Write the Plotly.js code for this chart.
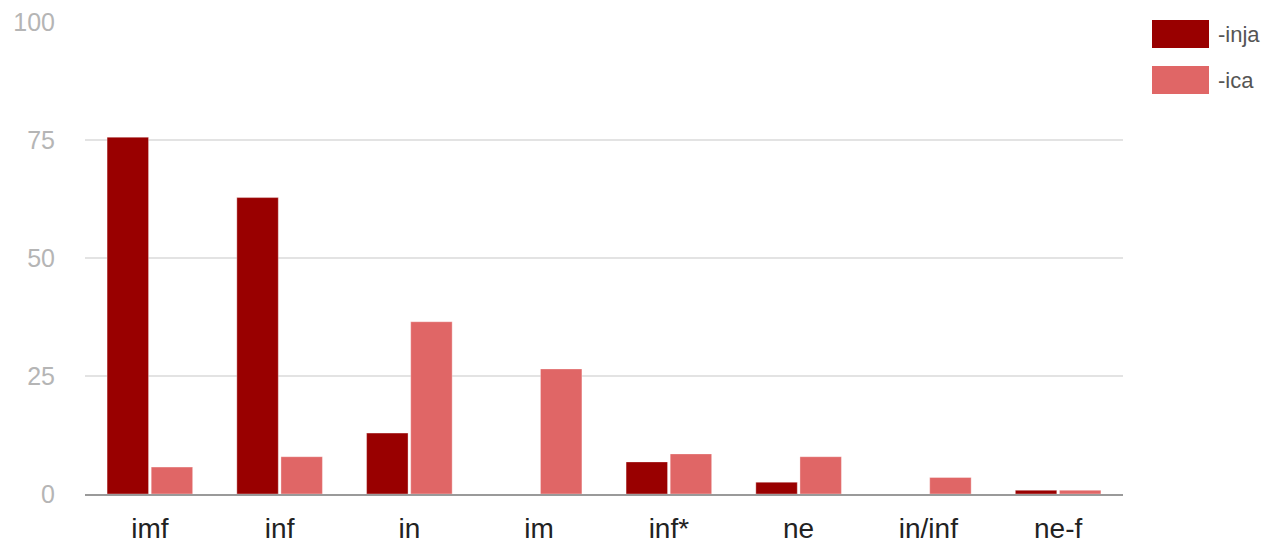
<!DOCTYPE html>
<html>
<head>
<meta charset="utf-8">
<script src="https://cdn.plot.ly/plotly-3.0.1.min.js"></script>
<style>html,body{margin:0;padding:0;background:#fff;}#chart{width:1274px;height:545px;}</style>
</head>
<body>
<div id="chart"></div>
<script>
const categories = ["imf", "inf", "in", "im", "inf*", "ne", "in/inf", "ne-f"];
const seriesNames = ["-inja", "-ica"];
const injaValues = [75.6, 62.8, 12.9, 0, 6.8, 2.5, 0, 0.8];
const icaValues = [5.7, 7.9, 36.5, 26.5, 8.5, 7.9, 3.5, 0.8];
const yTicks = [0, 25, 50, 75, 100];
const colors = ["#990000", "#e06666"];

const traces = [
  {type: "bar", name: seriesNames[0], x: categories, y: injaValues,
   marker: {color: colors[0], line: {color: "rgba(255,255,255,0.35)", width: 1}}, showlegend: false, hoverinfo: "x+y+name"},
  {type: "bar", name: seriesNames[1], x: categories, y: icaValues,
   marker: {color: colors[1], line: {color: "rgba(255,255,255,0.35)", width: 1}}, showlegend: false, hoverinfo: "x+y+name"}
];

const shapes = [];
const annotations = [];
const legendTop = [20, 66];
seriesNames.forEach((name, i) => {
  shapes.push({type: "rect", xref: "paper", yref: "paper",
    x0: (1152 - 85) / 1038, x1: (1209 - 85) / 1038,
    y0: 1 - (legendTop[i] + 28 - 22) / 472, y1: 1 - (legendTop[i] - 22) / 472,
    fillcolor: colors[i], line: {width: 0}});
  annotations.push({xref: "paper", yref: "paper", x: (1216 - 85) / 1038,
    y: 1 - (legendTop[i] + 14 - 22) / 472, xanchor: "left", yanchor: "middle",
    text: name, showarrow: false, font: {family: "Liberation Sans, Arial, sans-serif", size: 22, color: "#555"}});
});

const layout = {
  width: 1274, height: 545,
  margin: {l: 85, r: 151, t: 22, b: 51, pad: 0},
  paper_bgcolor: "#fff", plot_bgcolor: "#fff",
  barmode: "group", bargap: 0.32, bargroupgap: 0.06,
  font: {family: "Liberation Sans, Arial, sans-serif"},
  xaxis: {
    type: "category", showgrid: false, showline: true, linecolor: "#9a9a9a", linewidth: 2,
    ticks: "", tickfont: {size: 28, color: "#222"}, ticklabelstandoff: 8, fixedrange: true
  },
  yaxis: {
    range: [0, 100], tickvals: yTicks, ticktext: yTicks.map(String),
    showgrid: true, gridcolor: "#e3e3e3", gridwidth: 2, zeroline: false, showline: false,
    ticks: "", tickfont: {size: 25, color: "#b5b5b5"}, ticklabelstandoff: 29, fixedrange: true
  },
  shapes: shapes,
  annotations: annotations,
  showlegend: false
};

Plotly.newPlot("chart", traces, layout, {displayModeBar: false, staticPlot: true});
</script>
</body>
</html>
